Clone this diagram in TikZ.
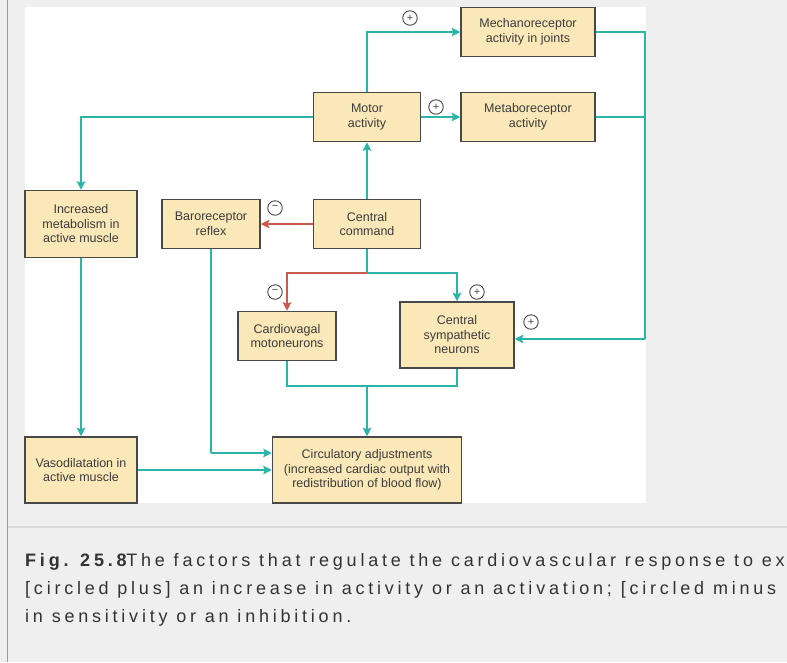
\documentclass[tikz,border=0pt]{standalone}
\usepackage{fontspec}
\setmainfont{Liberation Sans}
\newfontfamily\capfont[LetterSpace=21]{Liberation Sans}
\usetikzlibrary{arrows.meta}
\definecolor{teal1}{HTML}{2BB5A9}
\definecolor{red1}{HTML}{C95A4B}
\definecolor{boxfill}{HTML}{FBE8B8}
\definecolor{boxline}{HTML}{484848}
\definecolor{txt}{HTML}{3C3C3C}
\definecolor{captxt}{HTML}{333333}
\definecolor{pagebg}{HTML}{EFEFEF}
\definecolor{rule1}{HTML}{9A9A9A}
\definecolor{rule2}{HTML}{D9D9D9}
\begin{document}
\begin{tikzpicture}[x=1pt,y=-1pt,
  box/.style={draw=boxline,line width=1.5pt,fill=boxfill,align=center,text=txt,
    font=\fontsize{12.5}{14.5}\selectfont,inner sep=0pt},
  tl/.style={draw=teal1,line width=2pt},
  rl/.style={draw=red1,line width=2pt},
  tip/.style={-{Stealth[length=8.5pt,width=8.5pt,inset=1.5pt]}},
  sgn/.style={circle,draw=boxline,line width=0.9pt,minimum size=14.5pt,inner sep=0pt,
    fill=white,text=boxline,font=\fontsize{11}{11}\selectfont}
]
\useasboundingbox (0,0) rectangle (787,662);
\clip (0,0) rectangle (787,662);
% page
\fill[pagebg] (0,0) rectangle (787,662);
\fill[white] (25,7) rectangle (646,503);
\draw[rule1,line width=1.5pt] (7.5,0) -- (7.5,662);
\draw[rule2,line width=2.5pt] (8.3,527) -- (787,527);

% boxes
\node[box,minimum width=134pt,minimum height=49pt] (mech) at (528,32) {Mechanoreceptor\\activity in joints};
\node[box,minimum width=107pt,minimum height=49pt] (motor) at (367,117) {Motor\\activity};
\node[box,minimum width=134pt,minimum height=49pt] (metab) at (528,117) {Metaboreceptor\\activity};
\node[box,minimum width=112pt,minimum height=67pt] (incm) at (81,224) {Increased\\metabolism in\\active muscle};
\node[box,minimum width=98pt,minimum height=49pt] (baro) at (211,224) {Baroreceptor\\reflex};
\node[box,minimum width=107pt,minimum height=49pt] (cc) at (367,224) {Central\\command};
\node[box,minimum width=98pt,minimum height=49pt] (cardio) at (287,336) {Cardiovagal\\motoneurons};
\node[box,minimum width=114pt,minimum height=66pt] (csym) at (457,335) {Central\\sympathetic\\neurons};
\node[box,minimum width=112pt,minimum height=66pt] (vaso) at (81,470) {Vasodilatation in\\active muscle};
\node[box,minimum width=189pt,minimum height=66pt] (circ) at (367,470) {Circulatory adjustments\\(increased cardiac output with\\redistribution of blood flow)};

% helper coordinates
\coordinate (split) at (367,273);
\coordinate (rbend) at (645,339);
\coordinate (bj) at (211,453);
\coordinate (join) at (367,386);

% connectors
\draw[tl,tip] (motor.north) |- (mech.west);
\draw[tl,tip] (motor.east) -- (metab.west);
\draw[tl,tip] (motor.west) -| (incm.north);
\draw[tl,tip] (cc.north) -- (motor.south);
\draw[rl,tip] (cc.west) -- (baro.east);
\draw[tl] (cc.south) -- (split);
\draw[rl,tip] (split) -| (cardio.north);
\draw[tl,tip] (split) -| (csym.north);
\draw[tl] (mech.east) -| (rbend);
\draw[tl] (metab.east) -- (metab.east -| rbend);
\draw[tl,tip] (rbend) -- (rbend -| csym.east);
\draw[tl,tip] (incm.south) -- (vaso.north);
\draw[tl,tip] (vaso.east) -- (circ.west);
\draw[tl] (baro.south) -- (baro.south |- bj);
\draw[tl,tip] (baro.south |- bj) -- (bj -| circ.west);
\draw[tl] (cardio.south) |- (join);
\draw[tl] (csym.south) |- (join);
\draw[tl,tip] (join) -- (circ.north);

% signs
\node[sgn] (s1) at (410,18) {+};
\node[sgn] (s2) at (436,107) {+};
\node[sgn] (s3) at (275,208) {\raisebox{0.5pt}{−}};
\node[sgn] (s4) at (275,292) {\raisebox{0.5pt}{−}};
\node[sgn] (s5) at (477,292) {+};
\node[sgn] (s6) at (531,322) {+};

% caption
\begin{scope}[text=captxt,font=\capfont\fontsize{18}{18}\selectfont]
\node[anchor=base west,inner sep=0pt] (cap1) at (25,566) {\textbf{Fig. 25.8}\kern-4pt The factors that regulate the cardiovascular response to ex};
\node[anchor=base west,inner sep=0pt] (cap2) at (25,594) {[circled plus] an increase in activity or an activation; [circled minus};
\node[anchor=base west,inner sep=0pt] (cap3) at (25,622) {in sensitivity or an inhibition.};
\end{scope}
\end{tikzpicture}
\end{document}
